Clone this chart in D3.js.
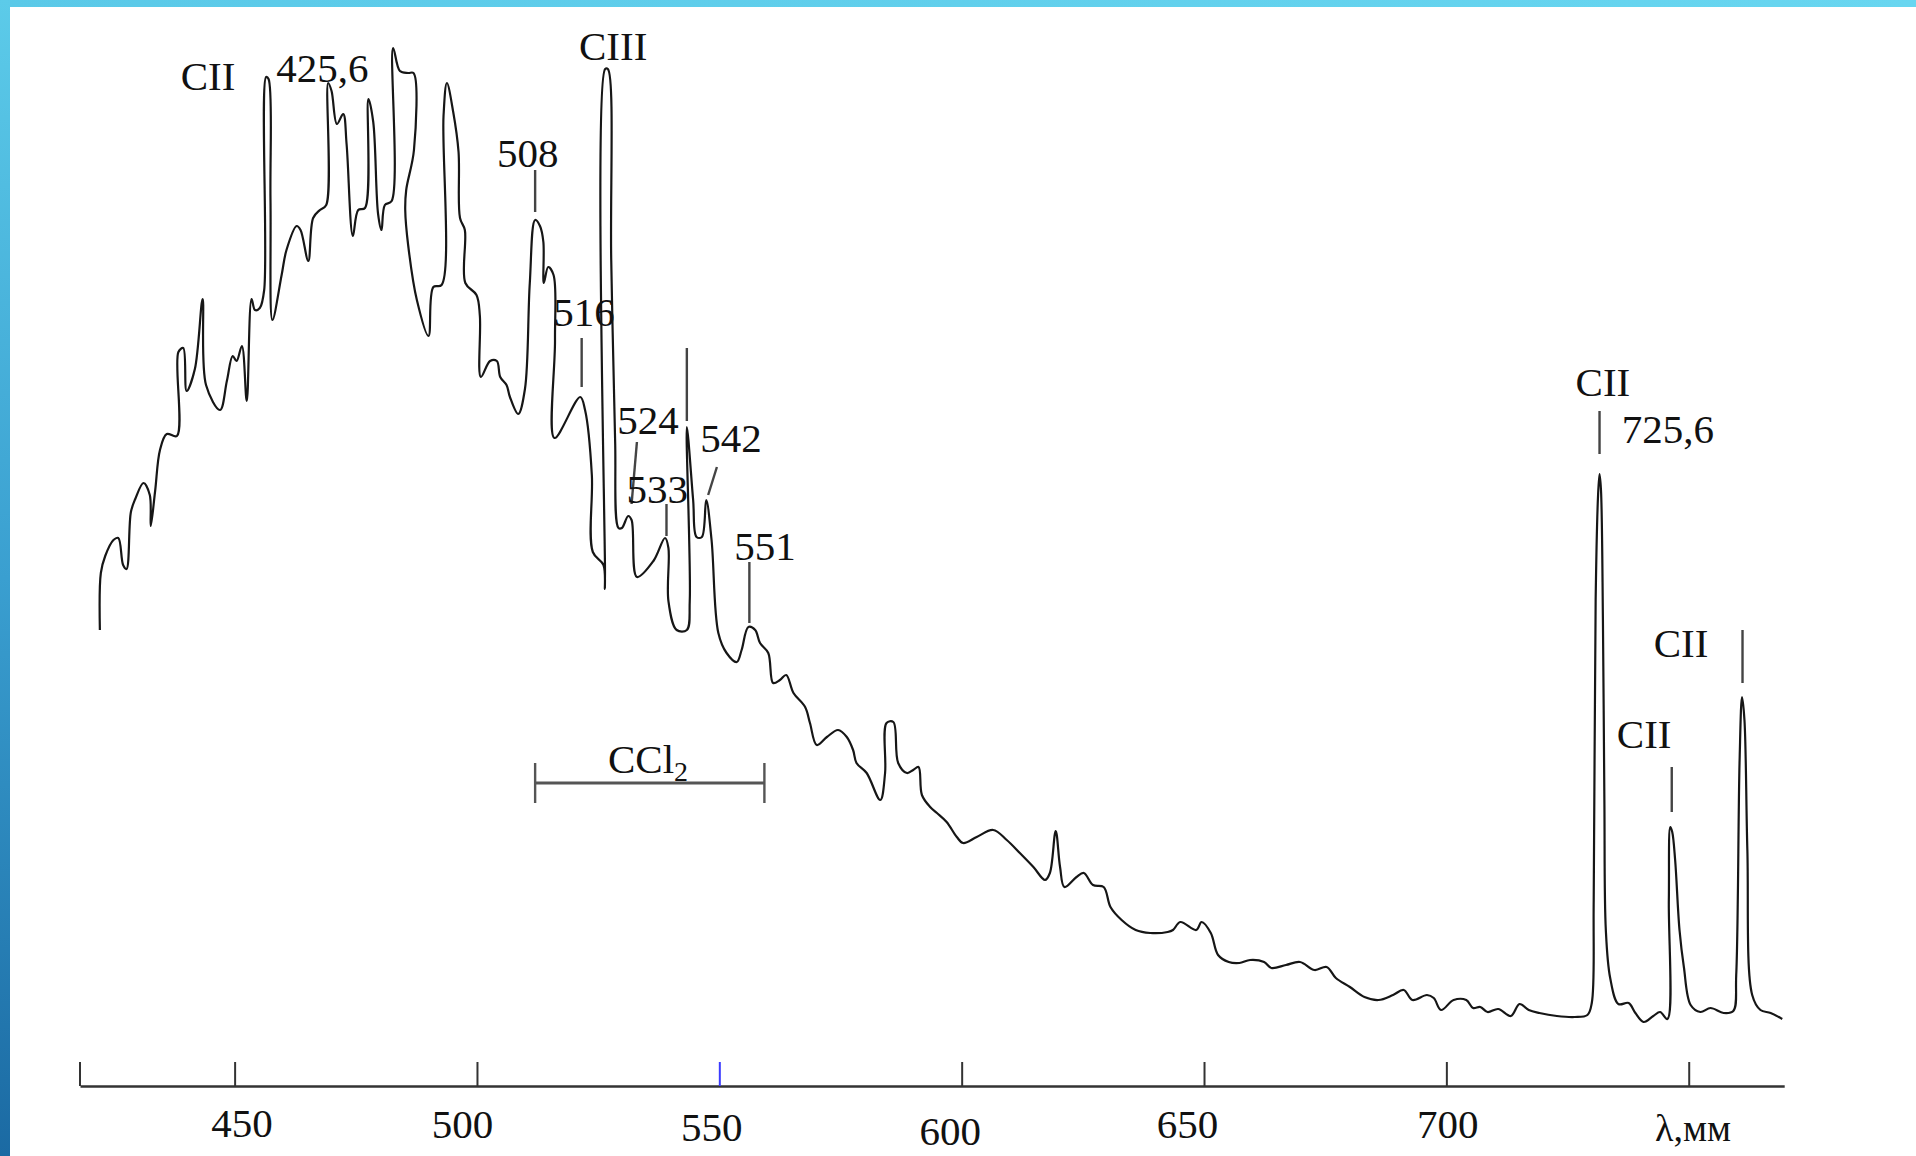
<!DOCTYPE html>
<html><head><meta charset="utf-8">
<script src="https://cdn.jsdelivr.net/npm/d3@7"></script>
<style>html,body{margin:0;padding:0;background:#fff;overflow:hidden}</style>
</head><body>
<svg id="chart" width="1916" height="1156"></svg>
<script>
// ---- data (wavelength, nm ; relative intensity, a.u.) ----
const spectrum = [[422.2,43.0],[422.4,48.7],[423.3,50.4],[425.0,52.0],[426.0,52.2],[427.0,49.5],[427.7,49.1],[428.6,54.8],[429.5,56.1],[431.2,57.7],[432.5,56.5],[432.7,53.4],[433.6,56.9],[434.6,61.0],[436.0,62.6],[438.1,62.4],[438.4,70.8],[439.4,71.2],[440.1,66.9],[441.8,69.1],[443.4,76.1],[444.1,67.5],[447.0,65.0],[448.4,67.9],[449.6,70.4],[450.4,69.9],[451.5,71.4],[452.5,65.9],[453.5,76.1],[454.2,75.0],[455.2,75.2],[456.1,77.0],[456.5,98.3],[457.0,98.1],[457.4,86.0],[457.8,74.0],[459.7,78.5],[460.7,81.0],[462.8,83.4],[463.6,83.0],[465.2,79.9],[466.2,84.2],[467.6,85.0],[468.9,85.5],[469.3,97.7],[470.0,96.9],[471.1,93.6],[472.4,94.6],[473.1,91.6],[474.4,82.4],[475.5,85.0],[476.9,85.2],[477.6,96.1],[478.6,93.8],[479.6,84.6],[480.3,83.0],[481.0,85.5],[482.4,85.9],[482.7,101.2],[484.1,98.9],[485.8,98.7],[486.9,98.7],[487.0,91.0],[485.4,87.0],[485.2,85.0],[485.8,81.5],[487.6,76.0],[490.0,72.4],[491.0,77.3],[492.7,77.5],[493.1,94.4],[493.8,97.7],[495.1,94.8],[496.2,90.8],[496.5,84.2],[497.5,83.0],[497.6,77.7],[499.9,76.5],[500.6,74.4],[500.8,68.3],[502.7,69.9],[504.1,69.9],[504.8,68.3],[506.1,67.5],[506.8,66.3],[508.5,64.6],[509.9,67.1],[510.9,77.7],[512.0,84.0],[513.0,83.4],[513.7,81.8],[513.8,77.7],[514.7,79.3],[515.8,78.5],[516.1,72.0],[516.0,62.2],[521.3,66.3],[522.3,65.0],[523.7,58.5],[523.9,50.8],[526.1,49.5],[526.4,47.1],[526.45,99.1],[527.0,99.1],[527.7,80.0],[528.5,62.0],[529.2,53.2],[529.9,53.2],[531.2,54.4],[531.9,54.0],[533.0,48.3],[536.4,49.9],[538.8,52.2],[539.5,51.2],[539.5,45.9],[541.2,43.0],[543.3,43.0],[543.9,45.9],[543.3,63.3],[544.6,56.0],[545.3,52.3],[546.4,52.3],[547.3,56.0],[548.4,52.0],[549.8,42.7],[551.5,40.7],[553.6,39.8],[554.6,41.0],[556.0,43.3],[557.4,43.0],[558.4,41.7],[560.1,40.7],[561.1,37.7],[562.5,38.0],[563.8,38.5],[565.3,36.7],[567.7,35.3],[568.7,33.7],[570.1,31.5],[572.2,32.3],[574.5,33.0],[576.3,32.3],[577.6,31.0],[578.3,29.7],[580.4,28.7],[583.2,26.0],[584.2,28.7],[584.5,33.7],[585.9,33.8],[586.9,29.7],[588.7,28.7],[590.0,29.0],[591.1,29.3],[591.8,26.5],[593.5,25.3],[594.9,24.7],[596.9,23.8],[599.0,22.3],[600.3,21.7],[603.1,22.3],[606.5,23.0],[609.3,22.0],[612.0,20.7],[614.8,19.3],[617.2,18.0],[618.2,18.7],[619.4,22.9],[620.3,19.3],[621.2,17.3],[623.7,18.3],[625.2,18.7],[627.1,17.5],[629.3,17.3],[630.7,15.3],[633.0,14.0],[635.9,13.0],[638.9,12.7],[642.5,12.8],[643.6,13.0],[645.1,13.8],[648.4,13.0],[649.5,13.8],[651.4,12.7],[652.9,10.5],[655.1,9.8],[657.3,9.7],[659.5,10.0],[662.4,9.8],[663.9,9.2],[666.9,9.5],[669.8,9.8],[672.8,9.0],[675.3,9.3],[677.2,8.2],[680.1,7.3],[683.1,6.3],[686.0,6.0],[689.0,6.5],[691.2,7.0],[693.0,6.0],[696.0,6.5],[697.4,6.2],[698.9,5.0],[701.5,6.0],[704.1,6.0],[705.5,5.2],[707.0,5.3],[708.5,4.8],[710.7,5.1],[713.3,4.4],[715.1,5.6],[717.0,5.0],[719.2,4.7],[722.8,4.4],[726.5,4.3],[729.1,4.5],[730.0,5.7],[730.4,16.0],[730.8,46.0],[731.3,56.5],[731.6,58.6],[731.9,57.0],[732.3,44.0],[732.6,26.0],[732.9,13.0],[733.8,8.2],[735.5,5.6],[737.6,5.7],[739.0,4.7],[740.7,3.8],[742.7,4.4],[744.1,4.8],[745.6,4.1],[745.9,16.0],[746.2,23.3],[746.6,22.8],[747.2,20.0],[748.1,13.0],[749.0,9.3],[750.4,5.5],[752.4,4.8],[754.5,5.2],[757.2,4.7],[759.2,4.9],[759.8,8.5],[760.5,30.0],[761.0,36.3],[761.5,34.0],[762.1,21.0],[763.1,6.5],[764.8,5.0],[766.9,4.7],[769.3,4.1]];

const tickValues = [450, 500, 550, 600, 650, 700, 750];
const tickLabels = ["450", "500", "550", "600", "650", "700", ""];
const axisTitle = "λ,мм";
const axisExtent = [418.1, 769.7];

// line labels: text, wavelength (centre), intensity (baseline), anchor
const lineLabels = [
  ["CII", 444.5, 97.0, "middle"],
  ["425,6", 468.1, 97.8, "middle"],
  ["CIII", 528.1, 100.0, "middle"],
  ["508", 510.5, 89.3, "middle"],
  ["516", 522.1, 73.4, "middle"],
  ["524", 535.3, 62.6, "middle"],
  ["533", 537.2, 55.7, "middle"],
  ["542", 552.4, 60.8, "middle"],
  ["551", 559.4, 50.0, "middle"],
  ["CII", 732.3, 66.4, "middle"],
  ["725,6", 736.2, 61.7, "start"],
  ["CII", 740.8, 31.2, "middle"],
  ["CII", 748.4, 40.3, "middle"]
];
// marker strokes: [wl1, I1, wl2, I2]
const markers = [
  [512.0, 89.0, 512.0, 84.8],
  [521.6, 72.2, 521.6, 67.3],
  [533.0, 61.8, 531.9, 55.6],
  [539.1, 55.6, 539.1, 52.4],
  [543.3, 71.2, 543.3, 63.9],
  [549.5, 59.3, 547.7, 56.5],
  [556.2, 49.8, 556.2, 43.7],
  [731.6, 64.9, 731.6, 60.6],
  [746.5, 29.3, 746.5, 24.8],
  [761.1, 43.0, 761.1, 37.7]
];
// CCl2 band bracket: [wl start, wl end, intensity]
const bandCCl2 = [512.0, 559.3, 27.7];
const bandLabel = ["CCl", "2", 535.3, 28.7];

// ---- style ----
const labelNudge = {450:[7,0],500:[-15,1],550:[-8,4],600:[-12,8],650:[-17,1],700:[1,1]};
const FONT = "'Liberation Serif','Times New Roman',serif";

const svg = d3.select("#chart");
const defs = svg.append("defs");
const gl = defs.append("linearGradient").attr("id","gLeft").attr("x1",0).attr("y1",0).attr("x2",0).attr("y2",1);
gl.append("stop").attr("offset","0%").attr("stop-color","#5ccbe9");
gl.append("stop").attr("offset","50%").attr("stop-color","#3a9fd0");
gl.append("stop").attr("offset","100%").attr("stop-color","#1b6aa3");
const gt = defs.append("linearGradient").attr("id","gTop").attr("x1",0).attr("y1",0).attr("x2",1).attr("y2",0);
gt.append("stop").attr("offset","0%").attr("stop-color","#5ac9e8");
gt.append("stop").attr("offset","100%").attr("stop-color","#68d6f0");

svg.append("rect").attr("x",0).attr("y",0).attr("width",1916).attr("height",1156).attr("fill","#fff");
svg.append("rect").attr("x",0).attr("y",0).attr("width",1916).attr("height",7).attr("fill","url(#gTop)");
svg.append("rect").attr("x",0).attr("y",0).attr("width",10).attr("height",1156).attr("fill","url(#gLeft)");

const x = d3.scaleLinear().domain(axisExtent).range([80, 1784.2]);
const y = d3.scaleLinear().domain([0, 100]).range([1060, 60]);
const axisY = 1086;

// axis
const axis = d3.axisBottom(x).tickValues(tickValues).tickSize(-24).tickSizeOuter(0)
  .tickFormat((d,i) => tickLabels[i]).tickPadding(0);
const ga = svg.append("g").attr("transform", `translate(0,${axisY})`).call(axis);
ga.select(".domain").attr("stroke","#333").attr("stroke-width",2.6);
ga.selectAll(".tick line").attr("stroke", d => d === 550 ? "#3b3bff" : "#333").attr("stroke-width",2);
ga.selectAll(".tick text")
  .attr("font-family", FONT).attr("font-size", 41).attr("fill","#111")
  .attr("dy", null)
  .attr("x", d => (labelNudge[d] || [0,0])[0])
  .attr("y", d => 51 + (labelNudge[d] || [0,0])[1]);
ga.append("line").attr("x1", x(axisExtent[0])).attr("x2", x(axisExtent[0]))
  .attr("y1", 0).attr("y2", -24).attr("stroke","#333").attr("stroke-width",2);
svg.append("text").attr("x", 1693).attr("y", 1141).attr("text-anchor","middle")
  .attr("font-family", FONT).attr("font-size", 38).attr("fill","#111").text(axisTitle);

// spectrum
const line = d3.line().x(d => x(d[0])).y(d => y(d[1])).curve(d3.curveCatmullRom.alpha(0.5));
svg.append("path").datum(spectrum).attr("d", line)
  .attr("fill","none").attr("stroke","#161616").attr("stroke-width",2.2).attr("stroke-linejoin","round");

// markers
svg.append("g").selectAll("line").data(markers).join("line")
  .attr("x1", d => x(d[0])).attr("y1", d => y(d[1]))
  .attr("x2", d => x(d[2])).attr("y2", d => y(d[3]))
  .attr("stroke","#444").attr("stroke-width",2.4);

// labels
svg.append("g").selectAll("text").data(lineLabels).join("text")
  .attr("x", d => x(d[1])).attr("y", d => y(d[2]))
  .attr("text-anchor", d => d[3])
  .attr("font-family", FONT).attr("font-size", 41).attr("fill","#111")
  .text(d => d[0]);

// CCl2 bracket
const gb = svg.append("g").attr("stroke","#555").attr("stroke-width",3);
gb.append("line").attr("x1", x(bandCCl2[0])).attr("x2", x(bandCCl2[1]))
  .attr("y1", y(bandCCl2[2])).attr("y2", y(bandCCl2[2]));
[bandCCl2[0], bandCCl2[1]].forEach(w => {
  gb.append("line").attr("x1", x(w)).attr("x2", x(w))
    .attr("y1", y(bandCCl2[2]) - 20).attr("y2", y(bandCCl2[2]) + 20).attr("stroke-width",2.4);
});
const bt = svg.append("text").attr("x", x(bandLabel[2])).attr("y", y(bandLabel[3]))
  .attr("text-anchor","middle").attr("font-family", FONT).attr("font-size", 41).attr("fill","#111");
bt.append("tspan").text(bandLabel[0]);
bt.append("tspan").attr("font-size", 28).attr("dy", 8).text(bandLabel[1]);
</script>
</body></html>
